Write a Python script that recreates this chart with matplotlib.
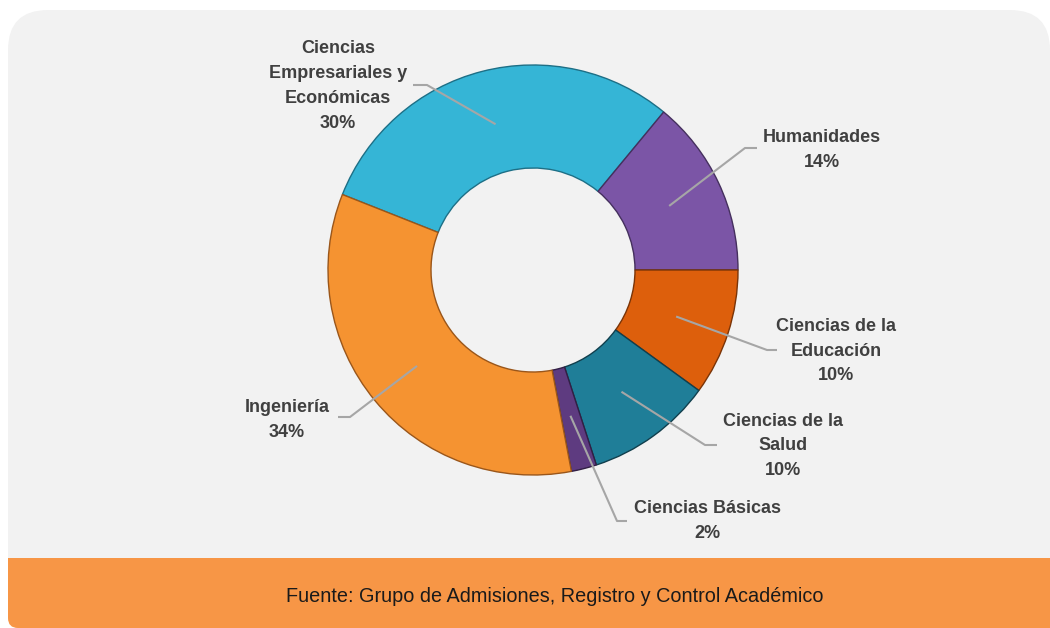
import numpy as np
import matplotlib
matplotlib.use("Agg")
import matplotlib.pyplot as plt
from matplotlib.patches import FancyBboxPatch, Rectangle
from matplotlib import font_manager

categories = ["Ciencias\nEmpresariales y\nEconómicas", "Humanidades", "Ciencias de la\nEducación",
              "Ciencias de la\nSalud", "Ciencias Básicas", "Ingeniería"]
values = [30, 14, 10, 10, 2, 34]
colors = ["#35b5d6", "#7b55a6", "#dd5f0c", "#1f7e98", "#5e3b80", "#f59331"]
edge_colors = ["#1d6f86", "#45305e", "#7a3407", "#113f4d", "#321f45", "#9a561a"]
footer_text = "Fuente: Grupo de Admisiones, Registro y Control Académico"

# layout (pixel coords, y measured from top)
W, H = 1050, 628
center = (533, 270)
R_out, R_in = 205, 102
start_angle = 158.4
elbows = [(427, 85), (745, 148), (767, 350), (705, 445), (617, 521), (350, 417)]
ends = [(413, 85), (757, 148), (777, 350), (717, 445), (627, 521), (338, 417)]
text_pos = [(338, 86), (822, 150), (836, 351), (783, 446), (707, 521), (287, 420)]

avail = {f.name for f in font_manager.fontManager.ttflist}
fam = ["Liberation Sans Narrow", "Liberation Sans", "DejaVu Sans"]
fam = [f for f in fam if f in avail] or ["DejaVu Sans"]

fig = plt.figure(figsize=(W / 100, H / 100), dpi=100)
ax = fig.add_axes([0, 0, 1, 1])
ax.set_xlim(0, W)
ax.set_ylim(0, H)
ax.axis("off")

def Y(y):
    return H - y

# background rounded box (top corners rounded, bottom hidden under footer)
box = FancyBboxPatch((8 + 40, Y(600)), 1050 - 8 - 80, Y(10) - Y(600) - 40,
                     boxstyle="round,pad=40", fc="#f2f2f2", ec="none", zorder=0)
ax.add_patch(box)
# footer band: square top, slightly rounded bottom
ax.add_patch(Rectangle((8, Y(600)), W, Y(558) - Y(600), fc="#f79646", ec="none", zorder=1))
ax.add_patch(FancyBboxPatch((8 + 10, Y(628) + 10), W, Y(590) - Y(628) - 20,
                            boxstyle="round,pad=10", fc="#f79646", ec="none", zorder=1))
ax.text(555, Y(597), footer_text, ha="center", va="center", fontsize=14.3,
        color="#1a1a1a", family=fam, zorder=5)

cx, cy = center[0], Y(center[1])
wedges, _ = ax.pie(values, colors=colors, startangle=start_angle, counterclock=False,
                   center=(cx, cy), radius=R_out, frame=True,
                   wedgeprops=dict(width=R_out - R_in, linewidth=1.0))
for w, ec in zip(wedges, edge_colors):
    w.set_edgecolor(ec)
    w.set_zorder(3)
ax.set_xlim(0, W)
ax.set_ylim(0, H)
ax.axis("off")

total = sum(values)
for i, (cat, v) in enumerate(zip(categories, values)):
    w = wedges[i]
    mid = np.deg2rad((w.theta1 + w.theta2) / 2)
    rm = (R_out + R_in) / 2 - 3
    ax0 = cx + rm * np.cos(mid)
    ay0 = cy + rm * np.sin(mid)
    ex, ey = elbows[i]
    nx, ny = ends[i]
    ax.plot([ax0, ex, nx], [ay0, Y(ey), Y(ny)], color="#a6a6a6", lw=1.5, zorder=4,
            solid_capstyle="butt")
    pct = f"{round(100 * v / total)}%"
    tx, ty = text_pos[i]
    ax.text(tx, Y(ty), f"{cat}\n{pct}", ha="center", va="center", fontsize=13,
            fontweight="bold", color="#404040", family=fam, linespacing=1.6, zorder=5)

fig.savefig("out.png", dpi=100, facecolor="white")
